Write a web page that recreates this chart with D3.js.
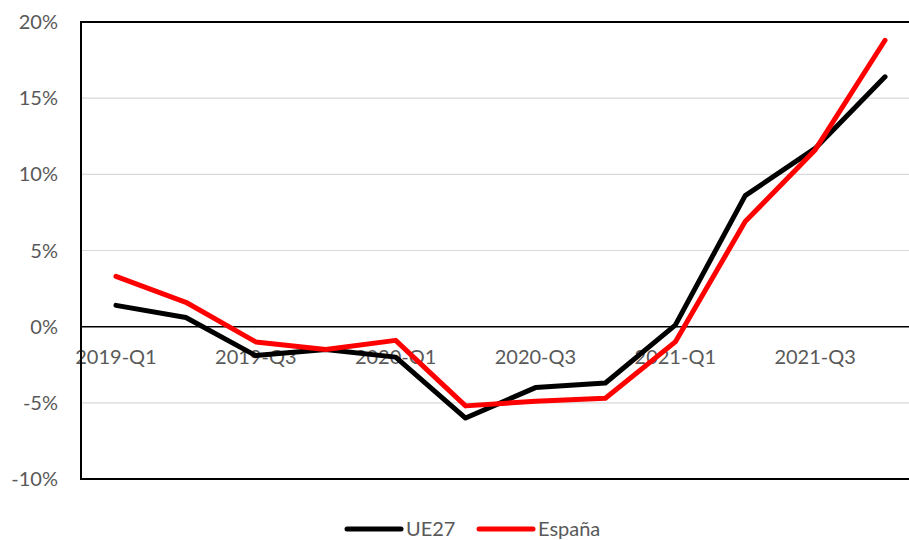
<!DOCTYPE html>
<html>
<head>
<meta charset="utf-8">
<script src="https://cdn.jsdelivr.net/npm/d3@7"></script>
<style>
  body { margin: 0; background: #fff; }
  text { font-family: Lato, "Open Sans", sans-serif; fill: #595959; }
</style>
</head>
<body>
<div class="svg-container"></div>
<script>
// Data
const quarters = ['2019-Q1','2019-Q2','2019-Q3','2019-Q4','2020-Q1','2020-Q2','2020-Q3','2020-Q4','2021-Q1','2021-Q2','2021-Q3','2021-Q4'];
const ue27   = [1.4, 0.6, -1.9, -1.5, -2.0, -6.0, -4.0, -3.7, 0.1, 8.6, 11.7, 16.4];
const espana = [3.3, 1.6, -1.0, -1.5, -0.9, -5.2, -4.9, -4.7, -1.0, 6.9, 11.6, 18.8];
const yTicks = [-10, -5, 0, 5, 10, 15, 20];

const series = [
  { name: 'UE27', values: ue27, color: '#000000' },
  { name: 'España', values: espana, color: '#ff0000' }
];

const margin = {top: 22, right: -11, bottom: 61, left: 81};
const W = 909, H = 540;
const width = W - margin.left - margin.right;
const height = H - margin.top - margin.bottom;

const svg = d3.select('.svg-container')
  .append('svg')
  .attr('width', W)
  .attr('height', H);

const g = svg.append('g')
  .attr('transform', `translate(${margin.left}, ${margin.top})`);

const xScale = d3.scaleBand()
  .domain(quarters)
  .range([0, width]);

const yScale = d3.scaleLinear()
  .domain([-10, 20])
  .range([height, 0]);

// gridlines
g.selectAll('.grid')
  .data(yTicks.filter(d => d !== 0 && d !== 20 && d !== -10))
  .enter()
  .append('line')
  .attr('x1', 0).attr('x2', width)
  .attr('y1', d => yScale(d)).attr('y2', d => yScale(d))
  .attr('stroke', '#d9d9d9')
  .attr('stroke-width', 1.2);

// y tick labels
g.selectAll('.ylab')
  .data(yTicks)
  .enter()
  .append('text')
  .attr('x', -23)
  .attr('y', d => yScale(d))
  .attr('dy', '0.35em')
  .attr('text-anchor', 'end')
  .style('font-size', '20px')
  .text(d => d + '%');

// zero line
g.append('line')
  .attr('x1', 0).attr('x2', width)
  .attr('y1', yScale(0)).attr('y2', yScale(0))
  .attr('stroke', '#000')
  .attr('stroke-width', 1.5);

// x labels (every other quarter)
g.selectAll('.xlab')
  .data(quarters.filter((d, i) => i % 2 === 0))
  .enter()
  .append('text')
  .attr('x', d => xScale(d) + xScale.bandwidth() / 2)
  .attr('y', yScale(0) + 37)
  .attr('text-anchor', 'middle')
  .style('font-size', '20px')
  .text(d => d);

// lines
const line = d3.line()
  .x((d, i) => xScale(quarters[i]) + xScale.bandwidth() / 2)
  .y(d => yScale(d));

g.selectAll('.series')
  .data(series)
  .enter()
  .append('path')
  .attr('d', d => line(d.values))
  .attr('fill', 'none')
  .attr('stroke', d => d.color)
  .attr('stroke-width', 5)
  .attr('stroke-linejoin', 'round')
  .attr('stroke-linecap', 'round');

// plot border
g.append('rect')
  .attr('x', 0).attr('y', 0)
  .attr('width', width).attr('height', height)
  .attr('fill', 'none')
  .attr('stroke', '#000')
  .attr('stroke-width', 2);

// legend
const legend = svg.append('g').attr('transform', 'translate(347, 529)');
const legX = [0, 132];
series.forEach((s, i) => {
  const lg = legend.append('g').attr('transform', `translate(${legX[i]}, 0)`);
  lg.append('line')
    .attr('x1', 0).attr('x2', 54)
    .attr('y1', 0).attr('y2', 0)
    .attr('stroke', s.color)
    .attr('stroke-width', 5)
    .attr('stroke-linecap', 'round');
  lg.append('text')
    .attr('x', 59)
    .attr('y', 0)
    .attr('dy', '0.35em')
    .style('font-size', '20px')
    .text(s.name);
});
</script>
</body>
</html>
